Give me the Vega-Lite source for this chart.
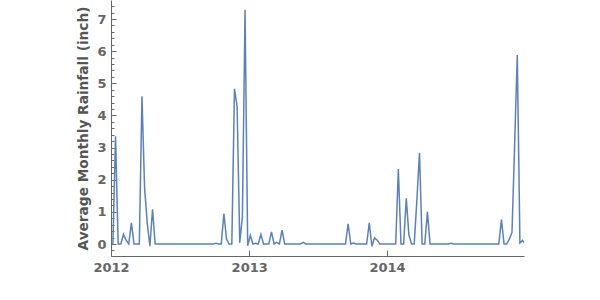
{
  "$schema": "https://vega.github.io/schema/vega-lite/v6.json",
  "autosize": "none",
  "padding": {"left": 111, "top": 0, "right": 76, "bottom": 44},
  "width": 413,
  "height": 256,
  "background": "white",
  "config": {"view": {"stroke": null}},
  "data": {"values": [
    {"date":"2012-01-06","rain":0},{"date":"2012-01-13","rain":3.35},{"date":"2012-01-20","rain":0},{"date":"2012-01-27","rain":0},
    {"date":"2012-02-03","rain":0.3},{"date":"2012-02-10","rain":0.12},{"date":"2012-02-17","rain":0},{"date":"2012-02-24","rain":0.66},
    {"date":"2012-03-02","rain":0},{"date":"2012-03-09","rain":0},{"date":"2012-03-16","rain":0},{"date":"2012-03-23","rain":4.6},{"date":"2012-03-30","rain":1.73},
    {"date":"2012-04-06","rain":0.65},{"date":"2012-04-13","rain":-0.07},{"date":"2012-04-20","rain":1.08},{"date":"2012-04-27","rain":0},
    {"date":"2012-05-04","rain":0},{"date":"2012-05-11","rain":0},{"date":"2012-05-18","rain":0},{"date":"2012-05-25","rain":0},
    {"date":"2012-06-01","rain":0},{"date":"2012-06-08","rain":0},{"date":"2012-06-15","rain":0},{"date":"2012-06-22","rain":0},{"date":"2012-06-29","rain":0},
    {"date":"2012-07-06","rain":0},{"date":"2012-07-13","rain":0},{"date":"2012-07-20","rain":0},{"date":"2012-07-27","rain":0},
    {"date":"2012-08-03","rain":0},{"date":"2012-08-10","rain":0},{"date":"2012-08-17","rain":0},{"date":"2012-08-24","rain":0},{"date":"2012-08-31","rain":0},
    {"date":"2012-09-07","rain":0},{"date":"2012-09-14","rain":0},{"date":"2012-09-21","rain":0},{"date":"2012-09-28","rain":0},
    {"date":"2012-10-05","rain":0.02},{"date":"2012-10-12","rain":0},{"date":"2012-10-19","rain":0},{"date":"2012-10-26","rain":0.95},
    {"date":"2012-11-02","rain":0.15},{"date":"2012-11-09","rain":0},{"date":"2012-11-16","rain":0},{"date":"2012-11-23","rain":4.83},{"date":"2012-11-30","rain":4.28},
    {"date":"2012-12-07","rain":0.04},{"date":"2012-12-14","rain":0.85},{"date":"2012-12-21","rain":7.29},{"date":"2012-12-28","rain":-0.05},
    {"date":"2013-01-04","rain":0.27},{"date":"2013-01-11","rain":0},{"date":"2013-01-18","rain":0.02},{"date":"2013-01-25","rain":0},
    {"date":"2013-02-01","rain":0.3},{"date":"2013-02-08","rain":0},{"date":"2013-02-15","rain":0},{"date":"2013-02-22","rain":0},
    {"date":"2013-03-01","rain":0.38},{"date":"2013-03-08","rain":0},{"date":"2013-03-15","rain":0.05},{"date":"2013-03-22","rain":0},{"date":"2013-03-29","rain":0.43},
    {"date":"2013-04-05","rain":0},{"date":"2013-04-12","rain":0},{"date":"2013-04-19","rain":0},{"date":"2013-04-26","rain":0},
    {"date":"2013-05-03","rain":0},{"date":"2013-05-10","rain":0},{"date":"2013-05-17","rain":0},{"date":"2013-05-24","rain":0.05},{"date":"2013-05-31","rain":0},
    {"date":"2013-06-07","rain":0},{"date":"2013-06-14","rain":0},{"date":"2013-06-21","rain":0},{"date":"2013-06-28","rain":0},
    {"date":"2013-07-05","rain":0},{"date":"2013-07-12","rain":0},{"date":"2013-07-19","rain":0},{"date":"2013-07-26","rain":0},
    {"date":"2013-08-02","rain":0},{"date":"2013-08-09","rain":0},{"date":"2013-08-16","rain":0},{"date":"2013-08-23","rain":0},{"date":"2013-08-30","rain":0},
    {"date":"2013-09-06","rain":0},{"date":"2013-09-13","rain":0},{"date":"2013-09-20","rain":0.63},{"date":"2013-09-27","rain":0},
    {"date":"2013-10-04","rain":0.03},{"date":"2013-10-11","rain":0},{"date":"2013-10-18","rain":0},{"date":"2013-10-25","rain":0},
    {"date":"2013-11-01","rain":0},{"date":"2013-11-08","rain":0},{"date":"2013-11-15","rain":0.66},{"date":"2013-11-22","rain":-0.07},{"date":"2013-11-29","rain":0.19},
    {"date":"2013-12-06","rain":0.12},{"date":"2013-12-13","rain":0},{"date":"2013-12-20","rain":0},{"date":"2013-12-27","rain":0},
    {"date":"2014-01-03","rain":0},{"date":"2014-01-10","rain":0},{"date":"2014-01-17","rain":0},{"date":"2014-01-24","rain":0},{"date":"2014-01-31","rain":2.33},
    {"date":"2014-02-07","rain":0},{"date":"2014-02-14","rain":0},{"date":"2014-02-21","rain":1.42},{"date":"2014-02-28","rain":0.28},
    {"date":"2014-03-07","rain":0},{"date":"2014-03-14","rain":0},{"date":"2014-03-21","rain":1.35},{"date":"2014-03-28","rain":2.84},
    {"date":"2014-04-04","rain":0},{"date":"2014-04-11","rain":0},{"date":"2014-04-18","rain":1.0},{"date":"2014-04-25","rain":0},
    {"date":"2014-05-02","rain":0},{"date":"2014-05-09","rain":0},{"date":"2014-05-16","rain":0},{"date":"2014-05-23","rain":0},{"date":"2014-05-30","rain":0},
    {"date":"2014-06-06","rain":0},{"date":"2014-06-13","rain":0},{"date":"2014-06-20","rain":0.02},{"date":"2014-06-27","rain":0},
    {"date":"2014-07-04","rain":0},{"date":"2014-07-11","rain":0},{"date":"2014-07-18","rain":0},{"date":"2014-07-25","rain":0},
    {"date":"2014-08-01","rain":0},{"date":"2014-08-08","rain":0},{"date":"2014-08-15","rain":0},{"date":"2014-08-22","rain":0},{"date":"2014-08-29","rain":0},
    {"date":"2014-09-05","rain":0},{"date":"2014-09-12","rain":0},{"date":"2014-09-19","rain":0},{"date":"2014-09-26","rain":0},
    {"date":"2014-10-03","rain":0},{"date":"2014-10-10","rain":0},{"date":"2014-10-17","rain":0},{"date":"2014-10-24","rain":0},{"date":"2014-10-31","rain":0.76},
    {"date":"2014-11-07","rain":0},{"date":"2014-11-14","rain":0},{"date":"2014-11-21","rain":0.15},{"date":"2014-11-28","rain":0.36},
    {"date":"2014-12-05","rain":3.1},{"date":"2014-12-12","rain":5.88},{"date":"2014-12-19","rain":0.03},{"date":"2014-12-26","rain":0.11},{"date":"2015-01-02","rain":0}
  ]},
  "mark": {"type": "line", "color": "#5E81B5", "strokeWidth": 1.5, "clip": true},
  "encoding": {
    "x": {
      "field": "date", "type": "temporal",
      "scale": {"type": "utc", "domain": [{"year": 2012, "month": 1, "date": 1, "utc": true}, {"year": 2014, "month": 12, "date": 29, "hours": 19, "utc": true}]},
      "axis": {
        "title": null,
        "values": [{"year": 2012, "month": 1, "date": 1, "utc": true}, {"year": 2013, "month": 1, "date": 1, "utc": true}, {"year": 2014, "month": 1, "date": 1, "utc": true}],
        "format": "%Y", "formatType": "utc",
        "grid": false, "tickSize": -6, "tickColor": "#666666", "domainColor": "#666666",
        "labelFont": "DejaVu Sans", "labelFontWeight": "bold", "labelFontSize": 13, "labelColor": "#666666",
        "labelPadding": 11.5, "labelFlush": false, "labelOverlap": false
      }
    },
    "y": {
      "field": "rain", "type": "quantitative",
      "scale": {"domain": [-0.373, 7.592], "nice": false, "zero": false},
      "axis": {
        "title": "Average Monthly Rainfall (inch)",
        "values": [-0.2,0,0.2,0.4,0.6,0.8,1,1.2,1.4,1.6,1.8,2,2.2,2.4,2.6,2.8,3,3.2,3.4,3.6,3.8,4,4.2,4.4,4.6,4.8,5,5.2,5.4,5.6,5.8,6,6.2,6.4,6.6,6.8,7,7.2,7.4],
        "labelExpr": "abs(datum.value - round(datum.value)) < 0.001 ? format(datum.value, 'd') : ''",
        "tickSize": {"condition": {"test": "abs(datum.value - round(datum.value)) < 0.001", "value": -5}, "value": -3},
        "grid": false, "tickColor": "#666666", "domainColor": "#666666",
        "labelFont": "DejaVu Sans", "labelFontWeight": "bold", "labelFontSize": 13, "labelColor": "#666666",
        "labelPadding": 10, "labelFlush": false, "labelOverlap": false,
        "titleFont": "DejaVu Sans", "titleFontWeight": "bold", "titleFontSize": 13.7, "titleColor": "#555555", "titlePadding": 6.7
      }
    }
  }
}
